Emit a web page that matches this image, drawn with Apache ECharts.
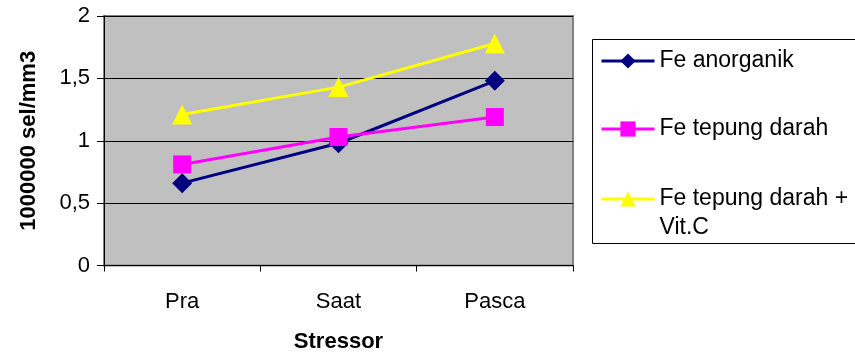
<!DOCTYPE html>
<html>
<head>
<meta charset="utf-8">
<script src="https://cdn.jsdelivr.net/npm/echarts@6/dist/echarts.min.js"></script>
<style>
  html, body { margin: 0; padding: 0; background: #fff; }
  #chart { width: 855px; height: 354px; }
</style>
</head>
<body>
<div id="chart"></div>
<script>
// Stress phases and red blood cell counts (x 1,000,000 cells/mm3)
const categories = ['Pra', 'Saat', 'Pasca'];
const feAnorganik = [0.66, 0.98, 1.48];
const feTepungDarah = [0.81, 1.03, 1.19];
const feTepungDarahVitC = [1.21, 1.43, 1.78];
const seriesNames = ['Fe anorganik', 'Fe tepung darah', 'Fe tepung darah + Vit.C'];
const yTicks = [0, 0.5, 1, 1.5, 2];

const FONT = '"Liberation Sans", Arial, sans-serif';

const chart = echarts.init(document.getElementById('chart'), null, { renderer: 'canvas' });

// One legend block per series so each entry sits at its own height
function legendFor(name, top, formatter) {
  const lg = {
    data: [name],
    orient: 'vertical',
    left: 600,
    top: top,
    padding: 0,
    itemWidth: 53,
    itemHeight: 19,
    selectedMode: false,
    lineStyle: { width: 3 },
    textStyle: { fontFamily: FONT, fontSize: 23, color: '#000', lineHeight: 29 }
  };
  if (formatter) lg.formatter = formatter;
  return lg;
}

const option = {
  animation: false,
  backgroundColor: '#fff',
  grid: {
    left: 104, top: 16, width: 469, height: 249.5,
    containLabel: false,
    outerBoundsMode: 'none',
    show: true, backgroundColor: '#c0c0c0', borderColor: '#808080', borderWidth: 2
  },
  graphic: [{
    type: 'rect',
    shape: { x: 592.5, y: 39.5, width: 280, height: 204 },
    style: { fill: 'none', stroke: '#000', lineWidth: 1 },
    silent: true
  }],
  legend: [
    legendFor(seriesNames[0], 46.5),
    legendFor(seriesNames[1], 114.5),
    // leading blank line keeps the first text line level with the icon
    legendFor(seriesNames[2], 155.5, () => '\nFe tepung darah +\nVit.C')
  ],
  xAxis: {
    type: 'category',
    data: categories,
    boundaryGap: true,
    name: 'Stressor',
    nameLocation: 'middle',
    nameGap: 65,
    nameTextStyle: { fontFamily: FONT, fontSize: 22, fontWeight: 'bold', color: '#000' },
    axisLine: { lineStyle: { color: '#000', width: 1 } },
    axisTick: { show: true, inside: false, length: 6, alignWithLabel: false, lineStyle: { color: '#000' } },
    axisLabel: { fontFamily: FONT, fontSize: 22, color: '#000', margin: 25 },
    splitLine: { show: false }
  },
  yAxis: {
    type: 'value',
    min: yTicks[0],
    max: yTicks[yTicks.length - 1],
    interval: 0.5,
    name: '1000000 sel/mm3',
    nameLocation: 'middle',
    nameGap: 64,
    nameRotate: 90,
    nameTextStyle: { fontFamily: FONT, fontSize: 22, fontWeight: 'bold', color: '#000' },
    axisLine: { show: true, lineStyle: { color: '#000', width: 1 } },
    axisTick: { show: true, inside: false, length: 7, lineStyle: { color: '#000' } },
    axisLabel: {
      fontFamily: FONT, fontSize: 22, color: '#000', margin: 14,
      formatter: v => String(v).replace('.', ',')
    },
    splitLine: { show: true, lineStyle: { color: '#000', width: 1 } }
  },
  series: [
    {
      name: seriesNames[0], type: 'line', data: feAnorganik,
      symbol: 'diamond', symbolSize: 20,
      itemStyle: { color: '#000080' }, lineStyle: { color: '#000080', width: 3 }, z: 3
    },
    {
      name: seriesNames[1], type: 'line', data: feTepungDarah,
      symbol: 'rect', symbolSize: 18,
      itemStyle: { color: '#ff00ff' }, lineStyle: { color: '#ff00ff', width: 3 }, z: 4
    },
    {
      name: seriesNames[2], type: 'line', data: feTepungDarahVitC,
      symbol: 'triangle', symbolSize: 20,
      itemStyle: { color: '#ffff00' }, lineStyle: { color: '#ffff00', width: 3 }, z: 5
    }
  ]
};

chart.setOption(option);
</script>
</body>
</html>
